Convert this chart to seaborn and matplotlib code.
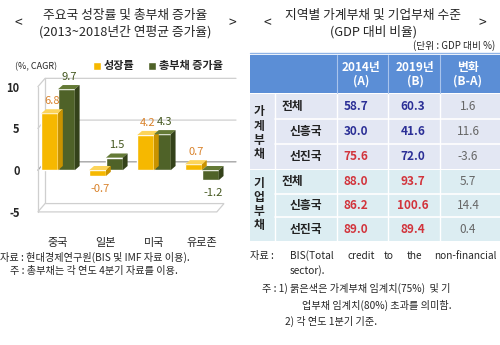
import numpy as np
import pandas as pd
import seaborn as sns
import matplotlib.pyplot as plt
from matplotlib.patches import Polygon, Rectangle
from matplotlib.lines import Line2D

# ---- data -------------------------------------------------------------
countries = ['중국', '일본', '미국', '유로존']
series = ['성장률', '총부채 증가율']
growth = [6.8, -0.7, 4.2, 0.7]
debt_growth = [9.7, 1.5, 4.3, -1.2]
y_ticks = [-5, 0, 5, 10]

row_labels = ['전체', '신흥국', '선진국']
household_2014 = [58.7, 30.0, 75.6]
household_2019 = [60.3, 41.6, 72.0]
corporate_2014 = [88.0, 86.2, 89.0]
corporate_2019 = [93.7, 100.6, 89.4]
household_limit = 75
corporate_limit = 80

# ---- style ------------------------------------------------------------
sns.set_theme(style='white')
plt.rcParams['font.family'] = ['Noto Sans CJK KR', 'DejaVu Sans']

YELLOW = '#f6b800'
GREEN = '#4f6228'
BLUE_TXT = '#2b2f96'
RED_TXT = '#d2343c'
GRAY_TXT = '#666666'

fig = plt.figure(figsize=(5, 3.45), dpi=100)
fig.patch.set_facecolor('white')

# full-figure overlay in pixel coordinates for titles, notes and the table
ov = fig.add_axes([0, 0, 1, 1])
ov.set_xlim(0, 500)
ov.set_ylim(345, 0)
ov.axis('off')

# ---- left: bar chart --------------------------------------------------
ax = fig.add_axes([35 / 500, (345 - 214) / 345, 201 / 500, 144 / 345])
df = pd.DataFrame({
    '국가': countries * 2,
    '지표': [series[0]] * 4 + [series[1]] * 4,
    '값': growth + debt_growth,
})
sns.barplot(data=df, x='국가', y='값', hue='지표', hue_order=series,
            palette=[YELLOW, GREEN], saturation=1, width=0.7,
            errorbar=None, ax=ax, zorder=3)
ax.set_xlim(-0.48, 3.71)
ax.set_ylim(-5.25, 12)
ax.set_xlabel('')
ax.set_ylabel('')
for s in ax.spines.values():
    s.set_visible(False)

# back wall and floor in a light 3D style
wx, wy = 0.15, 1.0
xl, xr = -0.48, 3.71
grid_c = '#cfcfcf'
for v in [10, 5, 0]:
    ax.plot([xl + 0.06, xl + 0.06 + wx, xr], [v, v + wy, v + wy],
            color='#9a9a9a' if v == 0 else grid_c, lw=0.9, zorder=1,
            clip_on=False)
ax.plot([xl + 0.06 + wx, xl + 0.06 + wx], [-5 + wy, 10 + wy],
        color=grid_c, lw=0.9, zorder=1)
ax.plot([xl + 0.06, xl + 0.06], [-5, 10], color=grid_c, lw=0.9, zorder=1)
floor = Polygon([(xl + 0.06, -5), (xr - wx - 0.25, -5), (xr - 0.25, -5 + wy),
                 (xl + 0.06 + wx, -5 + wy)], closed=True, facecolor='white',
                edgecolor=grid_c, lw=0.9, zorder=1)
ax.add_patch(floor)

# depth faces for each bar
dx, dy = 0.1, 0.5
shade = {0: ('#fcd45a', '#c99300'), 1: ('#647a36', '#34421a')}
lab_col = {0: '#d9822b', 1: '#44571f'}
for i, cont in enumerate(ax.containers):
    top_c, side_c = shade[i]
    vals = growth if i == 0 else debt_growth
    for bar, v in zip(cont.patches, vals):
        x, w = bar.get_x(), bar.get_width()
        top = max(bar.get_y(), bar.get_y() + bar.get_height())
        bot = min(bar.get_y(), bar.get_y() + bar.get_height())
        ax.add_patch(Polygon([(x, top), (x + dx, top + dy), (x + w + dx, top + dy),
                              (x + w, top)], closed=True, facecolor=top_c,
                             edgecolor='none', zorder=3))
        ax.add_patch(Polygon([(x + w, bot), (x + w + dx, bot + dy),
                              (x + w + dx, top + dy), (x + w, top)], closed=True,
                             facecolor=side_c, edgecolor='none', zorder=3))
        ly = v + 1.5 if v >= 0 else v - 1.55
        ax.text(x + w / 2 + dx / 2, ly, f'{v:.1f}', ha='center', va='center',
                fontsize=8, fontweight='medium', color=lab_col[i], zorder=4)

ax.set_yticks(y_ticks)
ax.set_yticklabels([str(t) for t in y_ticks], fontsize=8, fontweight='bold')
ax.tick_params(axis='y', length=0, pad=11)
ax.set_xticks(range(len(countries)))
ax.set_xticklabels(countries, fontsize=8, fontweight='medium')
ax.tick_params(axis='x', length=0, pad=17)

sns.move_legend(ax, 'center', bbox_to_anchor=(158 / 500, 1 - 66 / 345),
                bbox_transform=fig.transFigure, ncol=2, frameon=False,
                title=None, fontsize=8, handlelength=0.7, handleheight=0.7,
                handletextpad=0.3, columnspacing=1.2)
for t in ax.get_legend().get_texts():
    t.set_fontweight('bold')

ov.text(15, 67, '(%, CAGR)', fontsize=6.5, va='center', ha='left')

TW = 'medium'
# left titles and notes
ov.text(125, 15, '주요국 성장률 및 총부채 증가율', fontsize=9.2, fontweight=TW,
        ha='center', va='center')
ov.text(125, 32, '(2013~2018년간 연평균 증가율)', fontsize=9.2, fontweight=TW,
        ha='center', va='center')
ov.text(18, 23, '<', fontsize=10, ha='center', va='center')
ov.text(232, 23, '>', fontsize=10, ha='center', va='center')
ov.text(0, 257, '자료 : 현대경제연구원(BIS 및 IMF 자료 이용).', fontsize=7.3,
        ha='left', va='center')
ov.text(10, 271, '주 : 총부채는 각 연도 4분기 자료를 이용.', fontsize=7.3,
        ha='left', va='center')

# ---- right: table -------------------------------------------------------
ov.text(373, 15, '지역별 가계부채 및 기업부채 수준', fontsize=9.2, fontweight=TW,
        ha='center', va='center')
ov.text(373, 32, '(GDP 대비 비율)', fontsize=9.2, fontweight=TW,
        ha='center', va='center')
ov.text(267, 23, '<', fontsize=10, ha='center', va='center')
ov.text(482, 23, '>', fontsize=10, ha='center', va='center')
ov.text(495, 46, '(단위 : GDP 대비 %)', fontsize=7, ha='right', va='center')

col_x = [250, 275, 337, 388, 440, 500]
col_c = [356, 413, 468]
ov.add_line(Line2D([250, 500], [53, 53], color='#8fb3e6', lw=1))
ov.add_patch(Rectangle((250, 55), 250, 38, facecolor='#5b8ed6', edgecolor='none'))
for xx in col_x[2:5]:
    ov.add_line(Line2D([xx, xx], [55, 93], color='#a9c4ec', lw=0.8))
for cx, h in zip([361, 415, 468], ['2014년\n(A)', '2019년\n(B)', '변화\n(B-A)']):
    ov.text(cx, 74, h, color='white', fontsize=8.5, fontweight='bold',
            ha='center', va='center', linespacing=1.1)

sections = [
    ('가계부채', household_2014, household_2019, household_limit, 94, 25, '#e3e7f3'),
    ('기업부채', corporate_2014, corporate_2019, corporate_limit, 170, 23.7, '#dcedf2'),
]
for name, a_vals, b_vals, limit, y0, rh, bg in sections:
    ov.add_patch(Rectangle((250, y0), 250, rh * 3, facecolor=bg, edgecolor='none'))
    for k in range(1, 3):
        ov.add_line(Line2D([275, 500], [y0 + k * rh, y0 + k * rh], color='white', lw=1.2))
    for xx in col_x[1:5]:
        ov.add_line(Line2D([xx, xx], [y0, y0 + rh * 3], color='white', lw=1))
    gy0 = y0 + 18 if name == '가계부채' else y0 + 13
    for j, ch in enumerate(name):
        ov.text(259, gy0 + j * 14.3, ch, fontsize=8.5, fontweight='bold',
                ha='center', va='center', color='#222222')
    for r, (lab, a, b) in enumerate(zip(row_labels, a_vals, b_vals)):
        cy = y0 + rh * r + rh / 2
        lx = 282 if r == 0 else 290
        ov.text(lx, cy, lab, fontsize=8.5, fontweight='bold', ha='left',
                va='center', color='#222222')
        for cx, v in zip(col_c[:2], [a, b]):
            ov.text(cx, cy, f'{v:.1f}', fontsize=8.5, fontweight='bold',
                    ha='center', va='center',
                    color=RED_TXT if v > limit else BLUE_TXT)
        ov.text(col_c[2], cy, f'{b - a:.1f}', fontsize=8.5, ha='center',
                va='center', color=GRAY_TXT)

# right notes (first line justified across the column)
ov.text(250, 256, '자료 :', fontsize=7.3, ha='left', va='center')
for wx_, word in zip([290, 347, 384, 407], ['BIS(Total', 'credit', 'to', 'the']):
    ov.text(wx_, 256, word, fontsize=7.3, ha='left', va='center')
ov.text(497, 256, 'non-financial', fontsize=7.3, ha='right', va='center')
ov.text(290, 271, 'sector).', fontsize=7.3, ha='left', va='center')
ov.text(262, 288, '주 : 1) 붉은색은 가계부채 임계치(75%)  및 기', fontsize=7.3,
        ha='left', va='center')
ov.text(302, 305, '업부채 임계치(80%) 초과를 의미함.', fontsize=7.3,
        ha='left', va='center')
ov.text(285, 321, '2) 각 연도 1분기 기준.', fontsize=7.3, ha='left', va='center')

fig.savefig('out.png', dpi=100)
